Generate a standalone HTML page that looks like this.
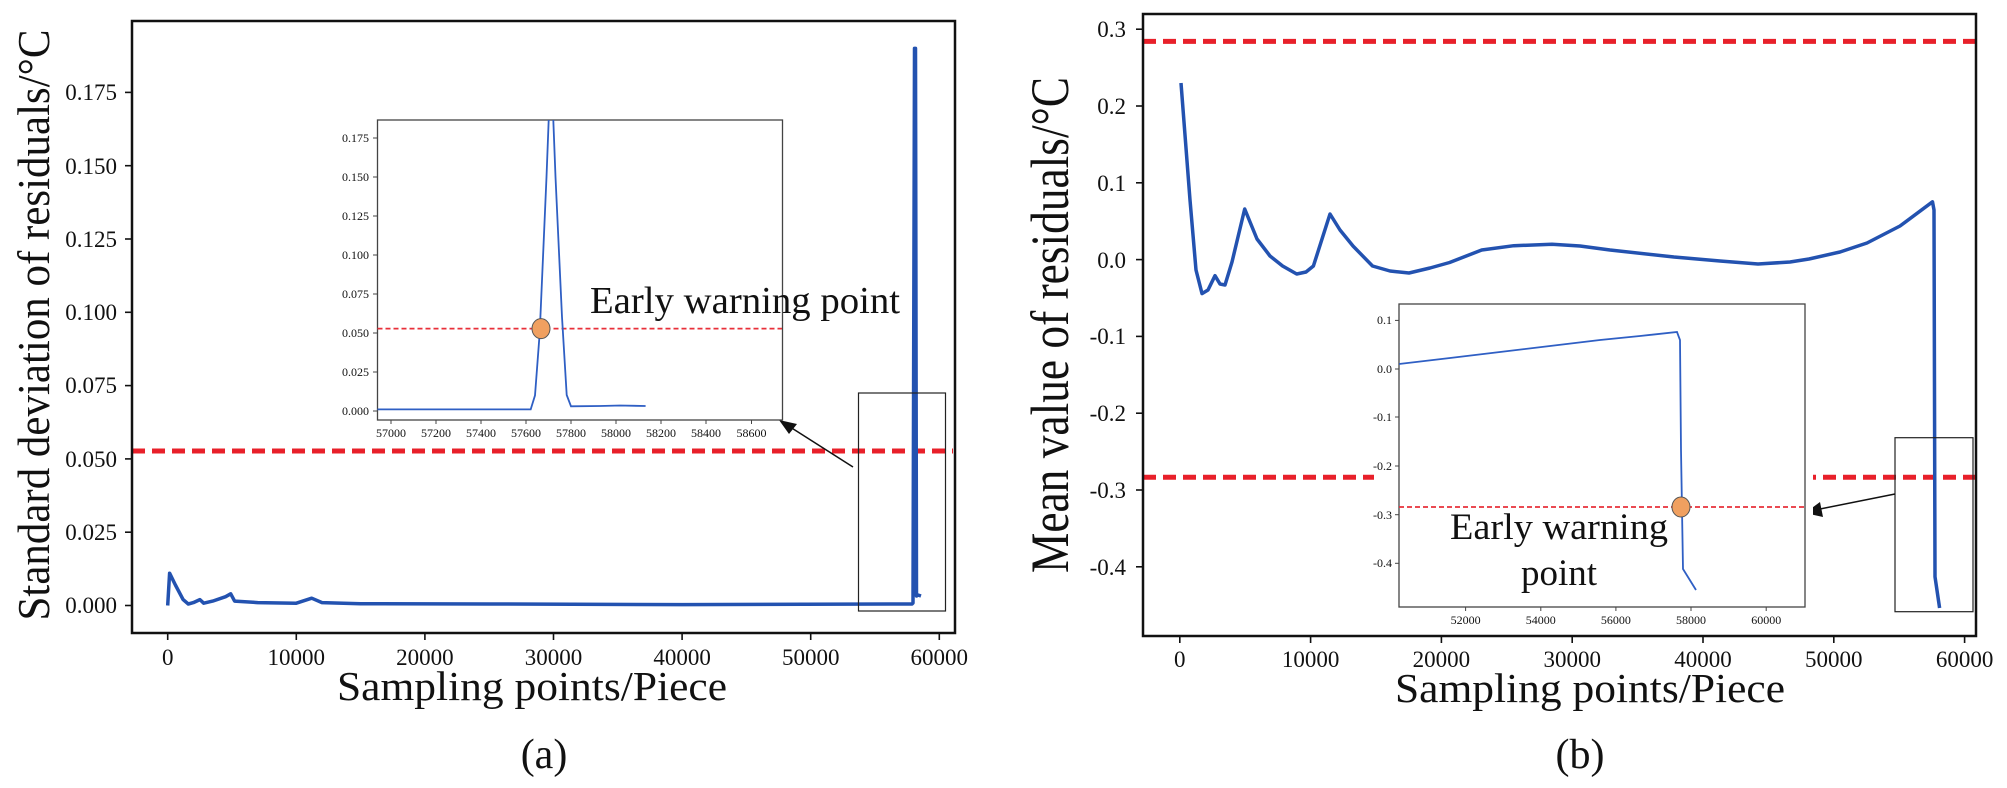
<!DOCTYPE html>
<html><head><meta charset="utf-8"><style>
html,body{margin:0;padding:0;background:#fff}
svg{display:block}
text{font-family:"Liberation Serif",serif;fill:#111}
</style></head><body>
<svg width="2007" height="788" viewBox="0 0 2007 788" xmlns="http://www.w3.org/2000/svg">
<rect width="2007" height="788" fill="#fff"/>
<!-- ===== LEFT PANEL ===== -->
<line x1="132" y1="451" x2="953" y2="451" stroke="#e8202a" stroke-width="5" stroke-dasharray="13,7"/>
<polyline fill="none" stroke="#2352b0" stroke-width="3.5" stroke-linejoin="round" points="167.7,605.5 169.6,573.2 175.4,585 183.1,599.6 188.3,604 193.4,602.6 199.9,599.6 203.7,603.2 212.7,601.1 225.6,596.7 230.7,593.8 234.6,601.1 257.7,602.6 296.3,603.2 311.7,598.2 322,602.6 360.6,603.7 489.2,604 682.1,604.6 912,604 913,603 914.5,48.4 915.5,48.4 916.5,596 918,595 921,596"/>
<rect x="858.5" y="393" width="87" height="218" fill="none" stroke="#222" stroke-width="1.2"/>
<line x1="853" y1="467" x2="787" y2="425" stroke="#111" stroke-width="1.5"/>
<polygon points="779,420 797,424 789,434" fill="#111"/>
<!-- inset left -->
<rect x="377.5" y="120" width="405" height="300" fill="#fff" stroke="#444" stroke-width="1.3"/>
<clipPath id="c1"><rect x="377.5" y="120" width="405" height="300"/></clipPath>
<g clip-path="url(#c1)">
<line x1="377.5" y1="328.6" x2="782" y2="328.6" stroke="#e8303a" stroke-width="1.8" stroke-dasharray="5,3"/>
<polyline fill="none" stroke="#2f5fc4" stroke-width="1.8" points="377.5,409.4 530.7,409.4 535,395.4 539.7,333 546.5,177 549,112 553,112 555.5,177 562,317 566.7,395 571,406.3 600,406 620,405.5 645.6,406"/>
</g>
<ellipse cx="541" cy="328.6" rx="9" ry="10" fill="#f0a060" stroke="#555" stroke-width="1"/>
<g font-size="12" text-anchor="end">
<text x="369" y="142">0.175</text><text x="369" y="181">0.150</text><text x="369" y="220">0.125</text><text x="369" y="259">0.100</text><text x="369" y="298">0.075</text><text x="369" y="337">0.050</text><text x="369" y="376">0.025</text><text x="369" y="415">0.000</text>
</g>
<g stroke="#444" stroke-width="1">
<line x1="373" y1="138" x2="377.5" y2="138"/><line x1="373" y1="177" x2="377.5" y2="177"/><line x1="373" y1="216" x2="377.5" y2="216"/><line x1="373" y1="255" x2="377.5" y2="255"/><line x1="373" y1="294" x2="377.5" y2="294"/><line x1="373" y1="333" x2="377.5" y2="333"/><line x1="373" y1="372" x2="377.5" y2="372"/><line x1="373" y1="411" x2="377.5" y2="411"/>
<line x1="391" y1="420" x2="391" y2="424"/><line x1="436" y1="420" x2="436" y2="424"/><line x1="481" y1="420" x2="481" y2="424"/><line x1="526" y1="420" x2="526" y2="424"/><line x1="571" y1="420" x2="571" y2="424"/><line x1="616" y1="420" x2="616" y2="424"/><line x1="661" y1="420" x2="661" y2="424"/><line x1="706" y1="420" x2="706" y2="424"/><line x1="751.5" y1="420" x2="751.5" y2="424"/>
</g>
<g font-size="12" text-anchor="middle">
<text x="391" y="437">57000</text><text x="436" y="437">57200</text><text x="481" y="437">57400</text><text x="526" y="437">57600</text><text x="571" y="437">57800</text><text x="616" y="437">58000</text><text x="661" y="437">58200</text><text x="706" y="437">58400</text><text x="751.5" y="437">58600</text>
</g>
<text x="590" y="313" font-size="38" textLength="310" lengthAdjust="spacingAndGlyphs">Early warning point</text>
<!-- frame left -->
<rect x="132" y="21" width="823" height="612" fill="none" stroke="#111" stroke-width="2.5"/>
<g stroke="#111" stroke-width="1.6">
<line x1="125" y1="605.5" x2="132" y2="605.5"/><line x1="125" y1="532.2" x2="132" y2="532.2"/><line x1="125" y1="458.9" x2="132" y2="458.9"/><line x1="125" y1="385.6" x2="132" y2="385.6"/><line x1="125" y1="312.3" x2="132" y2="312.3"/><line x1="125" y1="239" x2="132" y2="239"/><line x1="125" y1="165.7" x2="132" y2="165.7"/><line x1="125" y1="92.4" x2="132" y2="92.4"/>
<line x1="167.7" y1="633" x2="167.7" y2="640"/><line x1="296.3" y1="633" x2="296.3" y2="640"/><line x1="424.9" y1="633" x2="424.9" y2="640"/><line x1="553.5" y1="633" x2="553.5" y2="640"/><line x1="682.1" y1="633" x2="682.1" y2="640"/><line x1="810.7" y1="633" x2="810.7" y2="640"/><line x1="939.3" y1="633" x2="939.3" y2="640"/>
</g>
<g font-size="23" text-anchor="end">
<text x="117" y="613">0.000</text><text x="117" y="540">0.025</text><text x="117" y="467">0.050</text><text x="117" y="393">0.075</text><text x="117" y="320">0.100</text><text x="117" y="247">0.125</text><text x="117" y="174">0.150</text><text x="117" y="100">0.175</text>
</g>
<g font-size="23" text-anchor="middle">
<text x="167.7" y="665">0</text><text x="296.3" y="665">10000</text><text x="424.9" y="665">20000</text><text x="553.5" y="665">30000</text><text x="682.1" y="665">40000</text><text x="810.7" y="665">50000</text><text x="939.3" y="665">60000</text>
</g>
<text x="532" y="700" font-size="41" text-anchor="middle" textLength="390" lengthAdjust="spacingAndGlyphs">Sampling points/Piece</text>
<text x="544" y="768" font-size="42" text-anchor="middle">(a)</text>
<text transform="translate(49,325) rotate(-90)" font-size="46" text-anchor="middle" textLength="591" lengthAdjust="spacingAndGlyphs">Standard deviation of residuals/°C</text>

<!-- ===== RIGHT PANEL ===== -->
<line x1="1143" y1="41.4" x2="1976" y2="41.4" stroke="#e8202a" stroke-width="5" stroke-dasharray="13,7"/>
<line x1="1143" y1="477.3" x2="1976" y2="477.3" stroke="#e8202a" stroke-width="5" stroke-dasharray="13,7"/>
<polyline fill="none" stroke="#2352b0" stroke-width="3.5" stroke-linejoin="round" points="1181,83 1190,200 1196,270 1202,293.6 1208,290 1215,275.7 1220,284 1225,285 1232,262 1244.7,209 1257,239 1270,256 1282.6,266 1296.7,274 1306,272 1313.4,266 1330,214 1340,230 1353,246 1372.5,266 1390,271 1409,273 1430,268 1449.6,262.5 1481.7,250 1513.8,245.7 1552,244.3 1580,246 1610,250 1674,257 1720,261 1758,264 1790,262 1809,259 1840,252 1867,243 1900,226 1932.5,201.8 1934,210 1935,576.7 1939.6,608"/>
<rect x="1895" y="437.7" width="78" height="174" fill="none" stroke="#222" stroke-width="1.2"/>
<line x1="1895" y1="494" x2="1815" y2="510" stroke="#111" stroke-width="1.5"/>
<polygon points="1805,513 1820,502 1823,517" fill="#111"/>
<!-- inset right -->
<rect x="1374" y="295" width="439" height="335" fill="#fff"/>
<rect x="1399" y="304" width="406" height="303" fill="#fff" stroke="#444" stroke-width="1.3"/>
<clipPath id="c2"><rect x="1399" y="304" width="406" height="303"/></clipPath>
<g clip-path="url(#c2)">
<line x1="1399" y1="507" x2="1805" y2="507" stroke="#e8303a" stroke-width="1.8" stroke-dasharray="5,3"/>
<polyline fill="none" stroke="#2f5fc4" stroke-width="1.8" points="1399,364 1450,358 1500,352 1550,346 1600,340 1640,336 1677,332 1680,340 1681,450 1683,569 1696,590"/>
</g>
<ellipse cx="1681" cy="507" rx="9" ry="10" fill="#f0a060" stroke="#555" stroke-width="1"/>
<g font-size="12" text-anchor="end">
<text x="1392" y="324">0.1</text><text x="1392" y="373">0.0</text><text x="1392" y="421">-0.1</text><text x="1392" y="470">-0.2</text><text x="1392" y="519">-0.3</text><text x="1392" y="567">-0.4</text>
</g>
<g stroke="#444" stroke-width="1">
<line x1="1395" y1="320.4" x2="1399" y2="320.4"/><line x1="1395" y1="369" x2="1399" y2="369"/><line x1="1395" y1="417" x2="1399" y2="417"/><line x1="1395" y1="466" x2="1399" y2="466"/><line x1="1395" y1="514.7" x2="1399" y2="514.7"/><line x1="1395" y1="563.3" x2="1399" y2="563.3"/>
<line x1="1465.6" y1="607" x2="1465.6" y2="611"/><line x1="1540.8" y1="607" x2="1540.8" y2="611"/><line x1="1615.9" y1="607" x2="1615.9" y2="611"/><line x1="1691" y1="607" x2="1691" y2="611"/><line x1="1766.2" y1="607" x2="1766.2" y2="611"/>
</g>
<g font-size="12" text-anchor="middle">
<text x="1465.6" y="624">52000</text><text x="1540.8" y="624">54000</text><text x="1615.9" y="624">56000</text><text x="1691" y="624">58000</text><text x="1766.2" y="624">60000</text>
</g>
<text x="1450" y="539" font-size="37" textLength="218" lengthAdjust="spacingAndGlyphs">Early warning</text>
<text x="1559" y="585" font-size="37" text-anchor="middle">point</text>
<!-- frame right -->
<rect x="1143" y="14" width="833" height="622" fill="none" stroke="#111" stroke-width="2.5"/>
<g stroke="#111" stroke-width="1.6">
<line x1="1136" y1="29.2" x2="1143" y2="29.2"/><line x1="1136" y1="106" x2="1143" y2="106"/><line x1="1136" y1="182.8" x2="1143" y2="182.8"/><line x1="1136" y1="259.6" x2="1143" y2="259.6"/><line x1="1136" y1="336.4" x2="1143" y2="336.4"/><line x1="1136" y1="413.2" x2="1143" y2="413.2"/><line x1="1136" y1="490" x2="1143" y2="490"/><line x1="1136" y1="566.8" x2="1143" y2="566.8"/>
<line x1="1179.8" y1="636" x2="1179.8" y2="643"/><line x1="1310.6" y1="636" x2="1310.6" y2="643"/><line x1="1441.4" y1="636" x2="1441.4" y2="643"/><line x1="1572.2" y1="636" x2="1572.2" y2="643"/><line x1="1703" y1="636" x2="1703" y2="643"/><line x1="1833.8" y1="636" x2="1833.8" y2="643"/><line x1="1964.6" y1="636" x2="1964.6" y2="643"/>
</g>
<g font-size="23" text-anchor="end">
<text x="1126" y="37">0.3</text><text x="1126" y="114">0.2</text><text x="1126" y="191">0.1</text><text x="1126" y="268">0.0</text><text x="1126" y="344">-0.1</text><text x="1126" y="421">-0.2</text><text x="1126" y="498">-0.3</text><text x="1126" y="575">-0.4</text>
</g>
<g font-size="23" text-anchor="middle">
<text x="1179.8" y="667">0</text><text x="1310.6" y="667">10000</text><text x="1441.4" y="667">20000</text><text x="1572.2" y="667">30000</text><text x="1703" y="667">40000</text><text x="1833.8" y="667">50000</text><text x="1964.6" y="667">60000</text>
</g>
<text x="1590" y="702" font-size="41" text-anchor="middle" textLength="390" lengthAdjust="spacingAndGlyphs">Sampling points/Piece</text>
<text x="1580" y="768" font-size="42" text-anchor="middle">(b)</text>
<text transform="translate(1068,325) rotate(-90)" font-size="54" text-anchor="middle" textLength="496" lengthAdjust="spacingAndGlyphs">Mean value of residuals/°C</text>
</svg>
</body></html>
